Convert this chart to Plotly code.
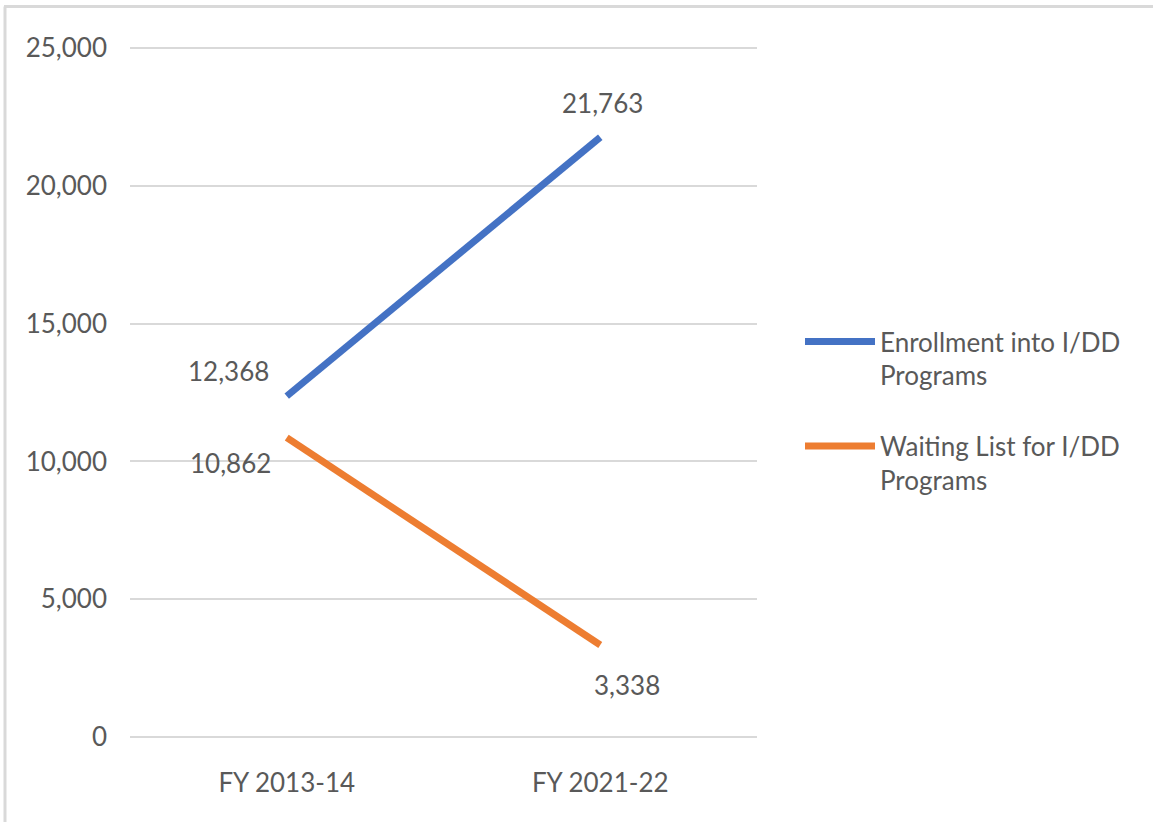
import plotly.graph_objects as go

categories = ["FY 2013-14", "FY 2021-22"]
enrollment = [12368, 21763]
waiting = [10862, 3338]
series_names = ["Enrollment into I/DD<br>Programs", "Waiting List for I/DD<br>Programs"]
y_ticks = [0, 5000, 10000, 15000, 20000, 25000]
y_tick_labels = ["0", "5,000", "10,000", "15,000", "20,000", "25,000"]

W, H = 1153, 822
PAD = 6  # px of extra room above 25,000 and below 0 so edge gridlines show
L, R, T, B = 130, 396, 48 - PAD, 85 - PAD
TXT = "#595959"
FONT = "Lato"
FS = 26

ymax = y_ticks[-1]
per_px = ymax / (737 - 48)
yrange = [-PAD * per_px, ymax + PAD * per_px]

fig = go.Figure()
fig.add_trace(go.Scatter(x=categories, y=enrollment, mode="lines", name=series_names[0],
                         legendgroup="a", line=dict(color="#4472C4", width=7)))
fig.add_trace(go.Scatter(x=categories, y=waiting, mode="lines", name=series_names[1],
                         legendgroup="b", line=dict(color="#ED7D31", width=7)))

# data labels
label_offsets = {
    ("e", 0): (-58, 25), ("e", 1): (2, 34),
    ("w", 0): (-56, -25), ("w", 1): (27, -40),
}
for key, vals in (("e", enrollment), ("w", waiting)):
    for i, v in enumerate(vals):
        dx, dy = label_offsets[(key, i)]
        fig.add_annotation(x=categories[i], y=v, text=f"{v:,}", showarrow=False,
                           xshift=dx, yshift=dy, font=dict(family=FONT, size=FS, color=TXT))

pw, ph = W - L - R, H - T - B
def px_x(p):
    return (p - L) / pw
def px_y(p):
    return (H - B - p) / ph

# outer border (top and left)
fig.add_shape(type="line", xref="paper", yref="paper", x0=px_x(4), x1=px_x(1160),
              y0=px_y(6.5), y1=px_y(6.5), line=dict(color="#D9D9D9", width=3))
fig.add_shape(type="line", xref="paper", yref="paper", x0=px_x(5), x1=px_x(5),
              y0=px_y(6.5), y1=px_y(830), line=dict(color="#D9D9D9", width=3))

fig.update_layout(
    width=W, height=H,
    margin=dict(l=L, r=R, t=T, b=B),
    paper_bgcolor="white", plot_bgcolor="white",
    font=dict(family=FONT, size=FS, color=TXT),
    showlegend=True,
    legend=dict(x=px_x(800), y=px_y(318), xanchor="left", yanchor="top",
                itemwidth=70, valign="top", tracegroupgap=34,
                font=dict(family=FONT, size=FS, color=TXT)),
    xaxis=dict(type="category", range=[-0.5, 1.5], showgrid=False, showline=False,
               zeroline=False, ticks="", ticklabelstandoff=22),
    yaxis=dict(range=yrange, tickvals=y_ticks, ticktext=y_tick_labels,
               showgrid=True, gridcolor="#D9D9D9", gridwidth=2, zeroline=False,
               showline=False, ticks="", ticklabelstandoff=22),
)

fig.write_html("out.html", config={"displayModeBar": False},
               post_script="document.body.style.margin='0';")
